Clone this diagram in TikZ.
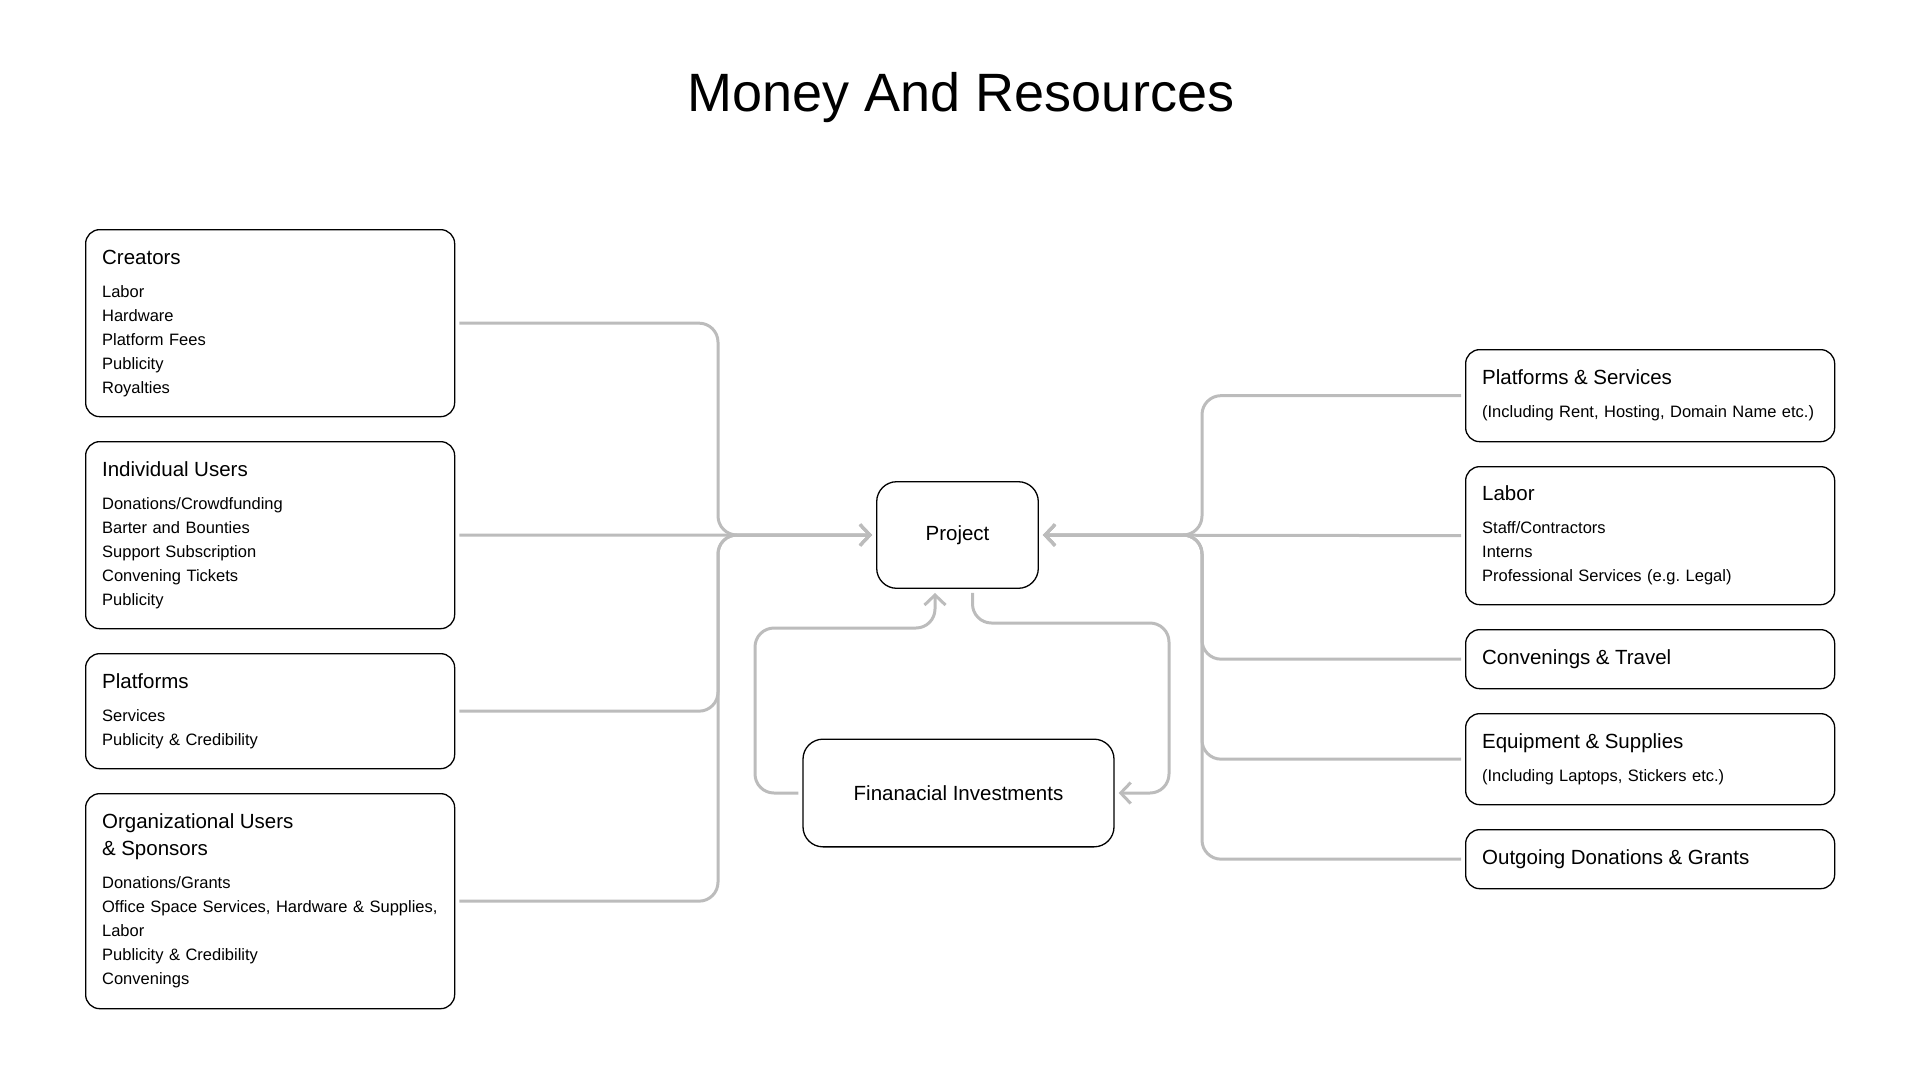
\documentclass[tikz,border=0pt]{standalone}
\usepackage{fontspec}
\setmainfont{Liberation Sans}
\usepackage{xcolor}
\usepackage{tikz}
\usetikzlibrary{arrows.meta}
\definecolor{linegray}{RGB}{188, 188, 188}
\newcommand{\boxtitle}[1]{{\fontsize{20.5}{27}\selectfont #1}}
\frenchspacing

\begin{document}
\begin{tikzpicture}[x=1pt, y=-1pt,
    box/.style = {draw=black, line width=1.3pt, rounded corners=14pt, fill=white, anchor=north west, align=left, text width=336pt, inner xsep=16.5pt, inner ysep=0pt, font=\fontsize{16.5}{24}\selectfont},
    hub/.style = {draw=black, line width=1.3pt, rounded corners=20pt, fill=white, font=\fontsize{20.5}{24}\selectfont},
    conn/.style = {draw=linegray, line width=3pt, rounded corners=19pt, shorten <=4pt, shorten >=4pt, -{Straight Barb[length=10pt,width=21pt]}}]
    \useasboundingbox (0,0) rectangle (1920,1080);
    \node[font=\fontsize{54}{60}\selectfont, anchor=base] (title) at (961,111.7) {Money And Resources};

    \node[box, minimum height=187pt] (creators) at (85,229) {\boxtitle{Creators}\\[9pt] Labor\\ Hardware\\ Platform Fees\\ Publicity\\ Royalties};
    \node[box, minimum height=187pt] (indiv) at (85,441) {\boxtitle{Individual Users}\\[9pt] Donations/Crowdfunding\\ Barter and Bounties\\ Support Subscription\\ Convening Tickets\\ Publicity};
    \node[box, minimum height=115pt] (platf) at (85,653) {\boxtitle{Platforms}\\[9pt] Services\\ Publicity \& Credibility};
    \node[box, minimum height=215pt] (orgusers) at (85,793) {\boxtitle{Organizational Users\\[3pt]\& Sponsors}\\[9pt] Donations/Grants\\ \mbox{Office Space Services, Hardware \& Supplies,}\\ Labor\\ Publicity \& Credibility\\ Convenings};

    \node[hub, minimum width=161.6pt, minimum height=106.6pt] (project) at (957.5,535) {Project};
    \node[hub, minimum width=311pt, minimum height=107.7pt] (invest) at (958.5,793) {Finanacial Investments};

    \node[box, minimum height=92pt] (psvc) at (1465,349) {\boxtitle{Platforms \& Services}\\[9pt] (Including Rent, Hosting, Domain Name etc.)};
    \node[box, minimum height=138pt] (labor) at (1465,466) {\boxtitle{Labor}\\[9pt] Staff/Contractors\\ Interns\\ Professional Services (e.g. Legal)};
    \node[box, minimum height=59pt] (conv) at (1465,629) {\boxtitle{Convenings \& Travel}};
    \node[box, minimum height=91pt] (equip) at (1465,713) {\boxtitle{Equipment \& Supplies}\\[9pt] (Including Laptops, Stickers etc.)};
    \node[box, minimum height=59pt] (outgo) at (1465,829) {\boxtitle{Outgoing Donations \& Grants}};

    \coordinate (lbus) at (718,535);
    \coordinate (rbus) at (1202,535);
    \coordinate (lloop) at (755,628);
    \coordinate (rloop) at (1169,623);

    \draw[conn] (creators.east) -| (lbus) -- (project.west);
    \draw[conn] (indiv.east) -- (project.west);
    \draw[conn] (platf.east) -| (lbus) -- (project.west);
    \draw[conn] (orgusers.east) -| (lbus) -- (project.west);

    \draw[conn] (psvc.west) -| (rbus) -- (project.east);
    \draw[conn] (labor.west) -- (project.east);
    \draw[conn] (conv.west) -| (rbus) -- (project.east);
    \draw[conn] (equip.west) -| (rbus) -- (project.east);
    \draw[conn] (outgo.west) -| (rbus) -- (project.east);

    \draw[conn] (invest.west) -| (lloop) -| ([xshift=-22.5pt]project.south);
    \draw[conn] ([xshift=15pt]project.south) |- (rloop) |- (invest.east);
\end{tikzpicture}
\end{document}
